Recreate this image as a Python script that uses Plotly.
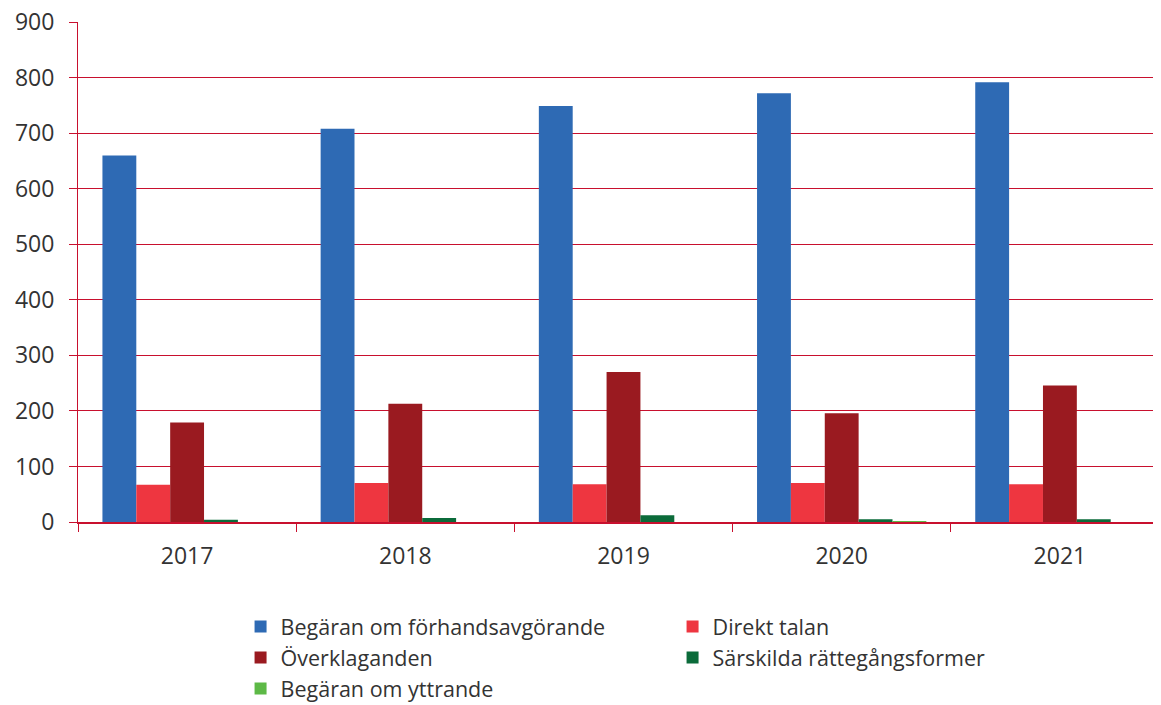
import plotly.graph_objects as go

years = ["2017", "2018", "2019", "2020", "2021"]
forhandsavgorande = [660, 708, 749, 772, 792]
direkt_talan = [67, 70, 68, 70, 68]
overklaganden = [179, 213, 270, 196, 246]
sarskilda = [4, 7, 12, 5, 5]
yttrande = [0, 0, 0, 1, 0]

series = [
    ("Begäran om förhandsavgörande", forhandsavgorande, "#2E6AB4"),
    ("Direkt talan", direkt_talan, "#EE3640"),
    ("Överklaganden", overklaganden, "#9A1A20"),
    ("Särskilda rättegångsformer", sarskilda, "#0B6B3A"),
    ("Begäran om yttrande", yttrande, "#5DB946"),
]

axis_red = "#C8102E"

fig = go.Figure()
for name, vals, col in series:
    fig.add_bar(x=years, y=vals, name=name, marker_color=col, marker_line_width=0)

fig.update_layout(
    width=1161,
    height=705,
    margin=dict(l=70, r=0, t=14, b=191, autoexpand=False),
    plot_bgcolor="white",
    paper_bgcolor="white",
    barmode="group",
    bargap=0.224,
    bargroupgap=0,
    font=dict(family="Open Sans", size=23, color="#333333"),
    legend=dict(
        orientation="h",
        x=0.149,
        xanchor="left",
        y=-0.168,
        yanchor="top",
        entrywidth=387,
        itemwidth=30,
        font=dict(size=21.5),
        itemclick=False,
    ),
)
fig.update_xaxes(
    type="category",
    range=[-0.5, 4.5],
    showline=True,
    linecolor=axis_red,
    linewidth=1.5,
    tickson="boundaries",
    ticks="outside",
    ticklen=8,
    tickcolor=axis_red,
    ticklabelstandoff=13,
    showgrid=False,
)
fig.update_yaxes(
    range=[0, 900.3],
    tickvals=[0, 100, 200, 300, 400, 500, 600, 700, 800, 900],
    showline=True,
    linecolor=axis_red,
    linewidth=1,
    showgrid=True,
    gridcolor=axis_red,
    gridwidth=1,
    ticks="outside",
    ticklen=8,
    tickcolor=axis_red,
    ticklabelstandoff=10,
    ticklabeloverflow="allow",
    zeroline=False,
)

fig.write_html("out.html")
